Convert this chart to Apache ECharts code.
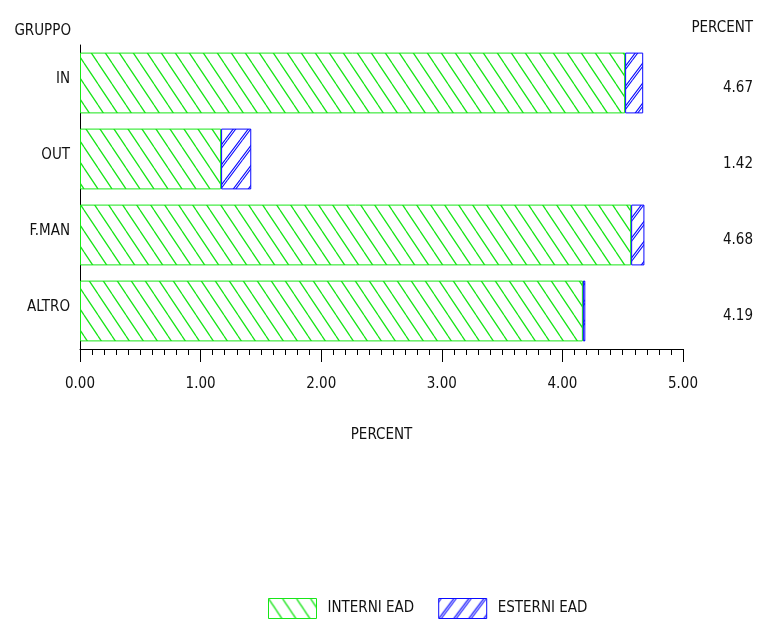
<!DOCTYPE html>
<html>
<head>
<meta charset="utf-8">
<script src="https://cdn.jsdelivr.net/npm/echarts@6/dist/echarts.min.js"></script>
<style>html,body{margin:0;padding:0;background:#fff}#c{width:757px;height:620px}</style>
</head>
<body>
<div id="c"></div>
<script>
// ---- data ----
const categories = ['IN', 'OUT', 'F.MAN', 'ALTRO'];
const interniEAD = [4.52, 1.17, 4.57, 4.17];
const esterniEAD = [0.15, 0.25, 0.11, 0.02];
const totals = [4.67, 1.42, 4.68, 4.19];
const seriesNames = ['INTERNI EAD', 'ESTERNI EAD'];
const xMin = 0, xMax = 5, xStep = 1;

const FONT = "'DejaVu Sans Condensed', 'Liberation Sans Narrow', sans-serif";
const FS = 15;
const TXT = '#111';
const GREEN = '#18e618';
const BLUE = '#0a0aff';

function hatch(color, w, h, dir, dbl, lw) {
  const c = document.createElement('canvas');
  c.width = w; c.height = h;
  const ctx = c.getContext('2d');
  ctx.fillStyle = '#fff';
  ctx.fillRect(0, 0, w, h);
  ctx.strokeStyle = color;
  ctx.lineWidth = lw;
  const offs = dbl ? [0, dbl] : [0];
  ctx.beginPath();
  for (const o of offs) {
    for (let k = -2; k <= 1; k++) {
      if (dir === '\\') { ctx.moveTo(k * w + o, 0); ctx.lineTo((k + 1) * w + o, h); }
      else { ctx.moveTo(k * w + o, h); ctx.lineTo((k + 1) * w + o, 0); }
    }
  }
  ctx.stroke();
  return c;
}

const greenPat = { image: hatch(GREEN, 14, 21, '\\', 0, 1.3), repeat: 'repeat' };
const bluePat = { image: hatch(BLUE, 15, 20, '/', 2.5, 1.1), repeat: 'repeat' };

const chart = echarts.init(document.getElementById('c'), null, { renderer: 'canvas' });
chart.setOption({
  backgroundColor: '#fff',
  animation: false,
  textStyle: { fontFamily: FONT, color: TXT },
  title: [
    { text: 'GRUPPO', right: 686, top: 24, padding: 0,
      textStyle: { fontFamily: FONT, fontSize: FS, fontWeight: 'normal', color: TXT } },
    { text: 'PERCENT', right: 4, top: 21, padding: 0,
      textStyle: { fontFamily: FONT, fontSize: FS, fontWeight: 'normal', color: TXT } }
  ],
  legend: {
    left: 268, top: 598, padding: 0,
    icon: 'rect',
    itemWidth: 48, itemHeight: 20, itemGap: 24,
    itemStyle: { borderWidth: 1 },
    textStyle: { fontFamily: FONT, fontSize: FS, color: TXT, padding: [0, 0, 0, 6] },
    data: seriesNames
  },
  grid: { left: 80, right: 74, top: 45, bottom: 271, containLabel: false },
  xAxis: {
    type: 'value', min: xMin, max: xMax, interval: xStep,
    name: 'PERCENT', nameLocation: 'middle', nameGap: 79,
    nameTextStyle: { fontFamily: FONT, fontSize: FS, color: TXT },
    axisLine: { show: true, lineStyle: { color: '#000', width: 1 } },
    axisTick: { show: true, length: 13, lineStyle: { color: '#000' } },
    minorTick: { show: true, splitNumber: 10, length: 6, lineStyle: { color: '#000' } },
    splitLine: { show: false },
    axisLabel: { fontFamily: FONT, fontSize: FS, color: TXT, margin: 28,
      formatter: v => v.toFixed(2) }
  },
  yAxis: [
    {
      type: 'category', data: categories, inverse: true,
      axisLine: { show: true, lineStyle: { color: '#000', width: 1 } },
      axisTick: { show: false },
      splitLine: { show: false },
      axisLabel: { fontFamily: FONT, fontSize: FS, color: TXT, margin: 10,
        verticalAlign: 'bottom', lineHeight: 8 }
    },
    {
      type: 'category', data: categories, inverse: true, position: 'right',
      axisLine: { show: false }, axisTick: { show: false }, splitLine: { show: false },
      axisLabel: { fontFamily: FONT, fontSize: FS, color: TXT, margin: 70, align: 'right',
        verticalAlign: 'top', lineHeight: 10,
        formatter: (v, i) => totals[i].toFixed(2) }
    }
  ],
  series: [
    {
      name: seriesNames[0], type: 'bar', stack: 'g', barWidth: '80%',
      itemStyle: { color: greenPat, borderColor: GREEN, borderWidth: 1 },
      data: interniEAD
    },
    {
      name: seriesNames[1], type: 'bar', stack: 'g', barWidth: '80%',
      itemStyle: { color: bluePat, borderColor: BLUE, borderWidth: 1 },
      data: esterniEAD
    }
  ]
});
</script>
</body>
</html>
